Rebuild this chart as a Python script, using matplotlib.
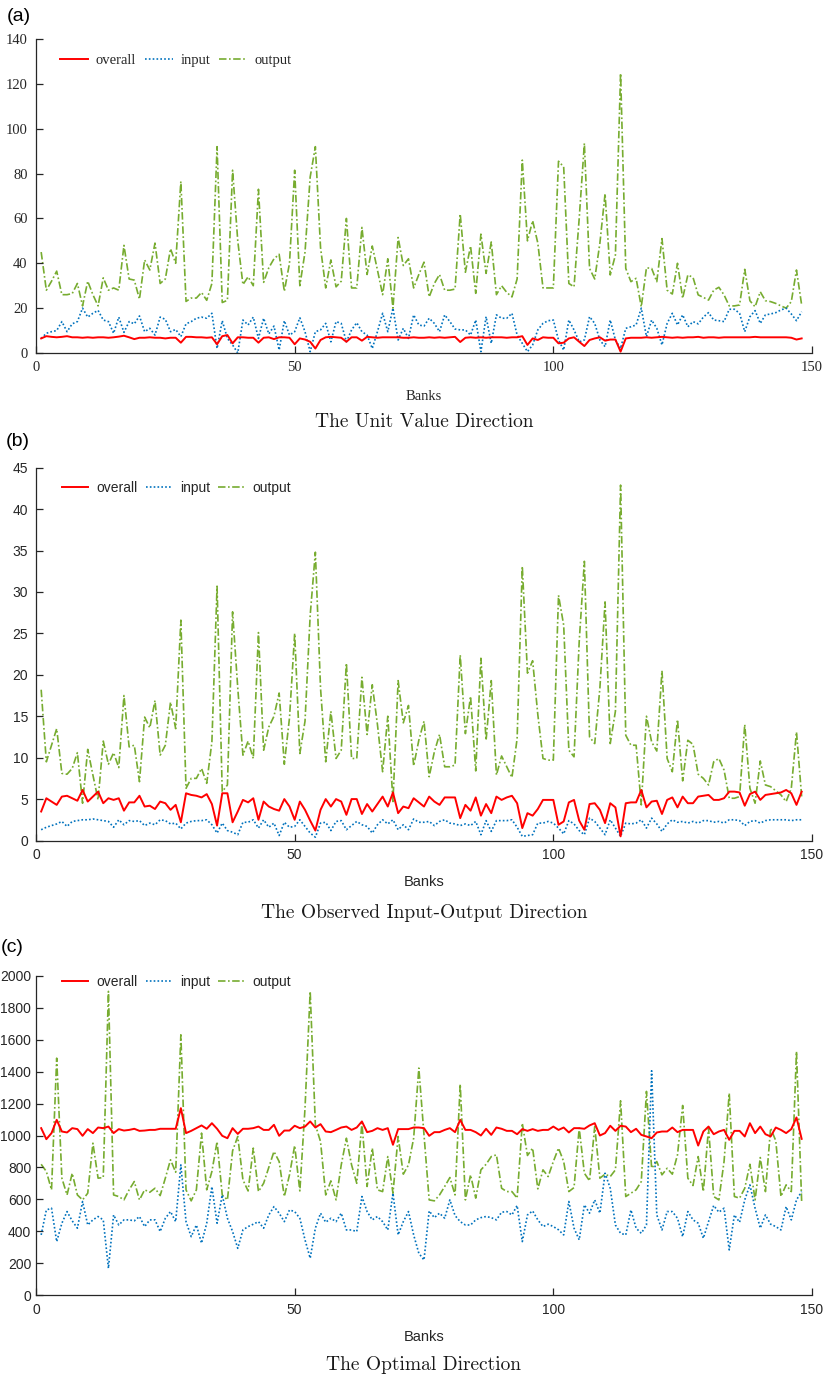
import matplotlib
matplotlib.use("Agg")
import matplotlib.pyplot as plt
import numpy as np

# ---------------- data ----------------
banks = list(range(1, 149))

a_overall = [6.5, 7.5, 7.2, 7, 7.2, 7.5, 7, 7, 6.8, 7, 6.8, 7, 7, 6.8, 7, 7.3, 7.7, 7, 6.2, 6.8,
             6.8, 7, 6.8, 6.8, 6.5, 6.8, 6.8, 4.6, 7.2, 7.2, 7, 7, 6.8, 7, 3.9, 7.5, 8, 4.3, 7, 7,
             6.8, 6.8, 4.6, 6.8, 7, 6.2, 7, 7, 6.8, 3.9, 6.5, 6, 5, 2, 5.8, 7, 7.2, 7, 6.8, 5,
             7, 7, 5.5, 7.2, 7, 6.8, 7, 7, 7, 7, 6.8, 6.8, 7, 6.8, 6.8, 7, 6.8, 7, 6.8, 7,
             7.2, 4.9, 6.8, 7, 6.8, 7, 6.8, 7, 7, 7, 6.8, 7, 7, 7.5, 3.6, 6.5, 5.8, 7, 6.8, 6.8,
             4.3, 4.6, 6.5, 7, 5, 3.1, 5.8, 6.5, 7, 5.5, 6, 6, 0.6, 6.5, 6.8, 6.8, 6.8, 7, 6.8, 7,
             7.2, 7, 6.8, 7, 6.8, 7, 7, 7.2, 6.8, 7, 7, 6.8, 7, 7, 7, 7, 7, 7, 7.2, 7,
             7, 7, 7, 7, 7, 6.8, 6, 6.5]
a_input = [6.5, 8.8, 9.5, 10, 14, 9.5, 13, 14, 20, 16, 17.7, 19, 14.7, 14, 8.8, 16, 9.2, 14, 13, 16.5,
           9.5, 11, 8, 16, 15, 9.5, 10.5, 7.3, 13, 14, 15.5, 16, 15.5, 17.7, 2, 14.4, 6.5, 3.6, 0, 14.7,
           12.5, 16, 6.5, 15.5, 8.5, 12, 1.3, 14.4, 8, 9.5, 15.7, 9.5, 0.6, 9.5, 10.3, 13.2, 5, 14, 13.2, 5,
           10.3, 13.5, 9.5, 8, 2, 9.5, 17.7, 9.5, 20, 5.8, 11, 6.5, 17, 12.5, 12, 15.5, 13.2, 9.5, 17, 14,
           10.7, 10.3, 10.3, 8, 14.7, 0.6, 16.2, 4.3, 17, 15.5, 15.5, 17.7, 8, 4.3, 0.6, 3.6, 10.3, 13.2, 14.4, 14.7,
           5.8, 1.3, 14.7, 10.3, 5, 5.8, 16.2, 13.2, 5.8, 2.8, 14.7, 5.8, 2, 11, 11.7, 12.5, 20, 7.3, 14.7, 11,
           3.6, 13.2, 17.7, 12.5, 17, 11.7, 14, 13, 16, 18, 14.7, 14.4, 14, 19.5, 19.5, 17.7, 9.5, 16.2, 18.9, 13.2,
           17, 17.4, 18, 19.2, 20, 17.4, 14.4, 18.4]
a_output = [45, 28, 32, 36.5, 26, 26, 26.5, 31, 21, 32, 26, 21, 33.5, 28, 29, 28, 48, 33, 32.5, 24,
            41.5, 37, 49, 31, 33, 46.5, 40, 76.5, 23, 24.5, 24.5, 27, 23.5, 31, 92, 22.5, 23.5, 81.5, 50, 30.5,
            34, 30, 73, 31.5, 38, 42, 44, 27.5, 40, 81.5, 30, 45, 78.5, 92, 47, 29, 41.5, 29.5, 32, 60,
            29, 29, 56, 35, 47.7, 37, 26, 42, 20, 51.5, 39, 42, 29, 35, 40.5, 25, 31, 35, 28, 28,
            28.5, 62, 36, 47.7, 26.6, 53, 35.5, 49.5, 26, 30, 27, 25, 33, 86, 50, 59, 49, 29, 29, 29,
            85.5, 83, 31, 29.5, 60, 93.5, 37.7, 33, 49, 71, 34.8, 43.7, 124.7, 37.7, 31.8, 33.3, 20.6, 38, 37.7, 31.8,
            51, 28, 26.3, 40, 24.4, 34.8, 33.7, 25.9, 24.8, 23.6, 28, 29.3, 25.9, 21, 21, 21.4, 37.3, 23.3, 20.6, 27.3,
            23.3, 22.9, 22.1, 21, 20, 22.9, 37, 21.4]

b_overall = [3.5, 5.1, 4.7, 4.3, 5.3, 5.4, 5.1, 4.8, 6.1, 4.7, 5.3, 5.9, 4.5, 5.1, 4.9, 5.1, 3.6, 4.6, 4.6, 5.4,
             4.1, 4.2, 3.8, 4.7, 4.5, 3.7, 4.3, 2.2, 5.7, 5.5, 5.4, 5.2, 5.6, 4.4, 1.8, 5.7, 5.7, 2.2, 3.5, 4.9,
             4.6, 5.1, 2.5, 4.7, 4.1, 3.8, 3.6, 5, 4.1, 2.5, 4.7, 3.7, 2.4, 1.2, 3.7, 5, 4.1, 5, 4.7, 3.1,
             5, 5, 3.2, 4.4, 3.5, 4.4, 5.3, 4.1, 5.8, 3.3, 4.1, 3.9, 5.1, 4.6, 4.1, 5.3, 4.7, 4.3, 5.2, 5.2,
             5.2, 2.7, 4.3, 3.6, 5.2, 3, 4.4, 3.3, 5.3, 4.9, 5.2, 5.4, 4.5, 1.5, 3.3, 3, 3.8, 4.9, 4.9, 4.9,
             1.9, 2.3, 4.6, 4.9, 2.4, 1.3, 4.4, 4.5, 3.7, 2.1, 4.5, 4, 0.5, 4.5, 4.6, 4.6, 6.1, 4, 4.7, 4.8,
             3.2, 4.9, 5.2, 4, 5.3, 4.5, 4.5, 5.3, 5.4, 5.5, 4.9, 4.9, 5.1, 5.9, 5.9, 5.8, 4.2, 5.6, 5.9, 4.9,
             5.5, 5.6, 5.7, 5.8, 6.1, 5.7, 4.3, 5.9]
b_input = [1.3, 1.6, 1.8, 2, 2.3, 1.7, 2.3, 2.4, 2.5, 2.5, 2.6, 2.5, 2.4, 2.3, 1.6, 2.5, 1.9, 2.4, 2.3, 2.4,
           1.8, 2.1, 1.9, 2.5, 2.4, 2, 2.1, 1.4, 2.1, 2.3, 2.4, 2.4, 2.5, 1.9, 0.9, 2.1, 1.2, 1, 0.7, 2.2,
           2.2, 2.5, 1.5, 2.5, 1.6, 2.1, 0.6, 2.2, 1.6, 1.7, 2.5, 1.7, 0.9, 0.4, 2.1, 2.2, 1.2, 2.3, 2.4, 1.3,
           1.8, 2.3, 1.9, 1.7, 0.9, 1.9, 2.5, 2, 2.5, 1.3, 1.9, 1.3, 2.6, 2.2, 2.2, 2.3, 1.8, 2.3, 2.5, 2.1,
           2, 1.8, 2, 1.8, 2.3, 0.7, 2.4, 1.1, 2.4, 2.4, 2.4, 2.5, 1.6, 0.5, 0.6, 0.7, 2.1, 2.1, 2.3, 2.1,
           1.5, 0.8, 2.4, 2, 1.2, 0.7, 2.7, 2.3, 1.5, 0.7, 2.5, 1.5, 0.5, 2.1, 2, 2.1, 2.5, 1.5, 2.7, 2,
           1.1, 2, 2.5, 2.2, 2.3, 2.1, 2.3, 2.1, 2.4, 2.4, 2.2, 2.3, 2.1, 2.5, 2.5, 2.4, 1.8, 2.3, 2.4, 2.1,
           2.4, 2.5, 2.5, 2.5, 2.5, 2.4, 2.5, 2.5]
b_output = [18.2, 9.5, 11.5, 13.5, 8.1, 8, 8.7, 10.6, 4.5, 11, 7.9, 4.9, 12, 9.2, 10.6, 8.8, 17.5, 11.3, 11.5, 7.1,
            14.9, 13.6, 16.9, 10.3, 11.5, 16.7, 13.5, 26.6, 6.3, 7.5, 7.5, 8.7, 6.9, 11.9, 30.7, 5.9, 6.7, 27.6, 18.4, 10.3,
            12, 9.9, 25.1, 10.9, 13.7, 15, 17.8, 9.2, 14.8, 25, 10.5, 14.4, 27.2, 34.8, 18.4, 9.5, 15.6, 9.9, 10.9, 21.4,
            9.9, 9.9, 19.7, 12.8, 18.8, 14, 8.3, 15, 4.7, 19.3, 14.2, 16.3, 9, 12.1, 14.4, 7.7, 10.7, 12.8, 8.9, 8.9,
            9.1, 22.4, 12.9, 17.4, 8.4, 22, 12.1, 19.3, 7.9, 10.2, 8.9, 7.6, 12.3, 33.1, 20.2, 21.7, 15.2, 9.9, 9.7, 9.7,
            29.6, 26, 10.9, 10.1, 24, 33.7, 12.5, 11.7, 18.4, 28.8, 11.7, 15.6, 42.9, 12.7, 11.5, 11.5, 4.3, 15, 11.9, 10.8,
            20.5, 9.9, 8.3, 14.6, 7.2, 12.1, 11.6, 8, 7.5, 6.7, 9.5, 9.9, 8.5, 5.1, 5.1, 5.3, 14, 6.3, 4.5, 9.6,
            6.7, 6.5, 6, 5.5, 4.7, 6.3, 13.1, 5.3]

c_overall = [1046, 977, 1015, 1098, 1025, 1019, 1046, 1040, 998, 1040, 1015, 1050, 1046, 1056, 1015, 1040, 1031, 1035, 1042, 1029,
             1031, 1035, 1035, 1042, 1042, 1042, 1042, 1171, 1015, 1029, 1046, 1063, 1042, 1077, 1042, 998, 983, 1046, 1010, 1042,
             1042, 1046, 1056, 1035, 1035, 1067, 998, 1031, 1031, 1061, 1046, 1056, 1088, 1050, 1071, 1025, 1021, 1035, 1050, 1056,
             1035, 1050, 1088, 1021, 1029, 1046, 1035, 1046, 942, 1040, 1040, 1040, 1050, 1050, 1046, 998, 1021, 1021, 1035, 1046,
             1021, 1098, 1035, 1035, 1021, 1000, 1042, 1004, 1050, 1042, 1029, 1029, 1008, 1040, 1029, 1040, 1029, 1035, 1035, 1056,
             1035, 1050, 1019, 1046, 1046, 1042, 1063, 1077, 1000, 1015, 1061, 1029, 1061, 1056, 1021, 1042, 1004, 994, 983, 1019,
             1025, 1025, 1050, 1021, 1035, 1035, 1035, 937, 1025, 1056, 1008, 1025, 1035, 973, 1029, 1029, 994, 1077, 1015, 1056,
             1008, 994, 1050, 1035, 1015, 1040, 1113, 979]
c_input = [378, 534, 545, 336, 451, 524, 466, 420, 587, 440, 472, 493, 472, 169, 503, 440, 472, 472, 466, 493,
           430, 472, 472, 399, 482, 524, 461, 816, 461, 367, 440, 326, 451, 680, 451, 628, 482, 399, 294, 409,
           430, 445, 461, 420, 503, 555, 514, 461, 534, 524, 482, 347, 232, 420, 514, 457, 482, 461, 514, 409,
           409, 399, 618, 524, 472, 493, 461, 409, 639, 378, 461, 524, 378, 263, 221, 528, 486, 514, 482, 597,
           499, 461, 440, 440, 472, 486, 493, 486, 472, 520, 524, 503, 562, 336, 503, 528, 472, 430, 445, 430,
           410, 378, 587, 420, 347, 566, 514, 597, 514, 764, 670, 440, 388, 378, 534, 420, 388, 440, 1405, 503,
           409, 524, 524, 482, 367, 524, 472, 451, 357, 461, 562, 520, 545, 284, 503, 457, 597, 691, 545, 420,
           503, 445, 430, 409, 555, 472, 597, 649]
c_output = [820, 775, 660, 1484, 733, 628, 764, 628, 597, 639, 952, 733, 737, 1902, 628, 618, 597, 660, 712, 597,
            660, 645, 670, 624, 733, 848, 770, 1630, 660, 591, 660, 1015, 660, 775, 962, 628, 597, 904, 994, 722,
            653, 921, 649, 701, 800, 900, 837, 618, 754, 937, 653, 1171, 1902, 1067, 962, 628, 716, 597, 816, 983,
            816, 701, 1077, 681, 921, 660, 649, 868, 639, 994, 758, 816, 983, 1422, 1004, 597, 591, 628, 681, 737,
            628, 1322, 597, 754, 608, 785, 820, 868, 879, 670, 649, 649, 608, 1077, 875, 921, 666, 785, 743, 837,
            921, 837, 649, 674, 1046, 764, 716, 1056, 733, 758, 743, 785, 1217, 618, 639, 660, 712, 1276, 795, 837,
            754, 795, 758, 879, 1188, 733, 687, 868, 649, 1046, 618, 597, 837, 1265, 618, 608, 670, 820, 597, 862,
            649, 1046, 967, 618, 691, 649, 1526, 587]

series_names = ["overall", "input", "output"]
x_ticks = [0, 50, 100, 150]
a_yticks = [0, 20, 40, 60, 80, 100, 120, 140]
b_yticks = [0, 5, 10, 15, 20, 25, 30, 35, 40, 45]
c_yticks = [0, 200, 400, 600, 800, 1000, 1200, 1400, 1600, 1800, 2000]
panel_labels = ["(a)", "(b)", "(c)"]
captions = ["The Unit Value Direction", "The Observed Input-Output Direction", "The Optimal Direction"]
x_label = "Banks"

# ---------------- figure ----------------
W, H = 825, 1378
fig = plt.figure(figsize=(W / 100, H / 100), dpi=100)

RED = "#FF0000"
BLUE = "#0072BD"
GREEN = "#77AC30"

def fx(px):
    return px / W

def fy(py):
    return 1 - py / H

LEFT, RIGHT = 36, 812

panels = [
    dict(top=39.0, bottom=353.0, data=(a_overall, a_input, a_output), yticks=a_yticks, ylim=(0, 140),
         font="Liberation Serif", tsize=10.5, lsize=10.5, ypad=6.0, xpad=6, bsize=10.5,
         leg=(60, 60), banks_y=396.5, cap_y=422.5, lab_y=16.5, lab_x=7),
    dict(top=467.7, bottom=840.5, data=(b_overall, b_input, b_output), yticks=b_yticks, ylim=(0, 45),
         font="Liberation Sans", tsize=10, lsize=10, ypad=5.5, xpad=5.5, bsize=10.5,
         leg=(62, 488.3), banks_y=882, cap_y=913, lab_y=441, lab_x=6),
    dict(top=975.7, bottom=1295.3, data=(c_overall, c_input, c_output), yticks=c_yticks, ylim=(0, 2000),
         font="Liberation Sans", tsize=10, lsize=10, ypad=3.5, xpad=5.5, bsize=10.5,
         leg=(62, 981.7), banks_y=1336.7, cap_y=1365, lab_y=948, lab_x=0.5),
]

for k, p in enumerate(panels):
    ax = fig.add_axes([fx(LEFT), fy(p["bottom"]), fx(RIGHT - LEFT), (p["bottom"] - p["top"]) / H])
    ov, inp, out = p["data"]
    l1, = ax.plot(banks, ov, color=RED, lw=1.4, ls="-", label=series_names[0], zorder=3)
    l2, = ax.plot(banks, inp, color=BLUE, lw=1.2, ls=(0, (1, 1.3)), label=series_names[1], zorder=2)
    l3, = ax.plot(banks, out, color=GREEN, lw=1.2, ls=(0, (4.5, 1.5, 1, 1.5)), label=series_names[2], zorder=1)

    ax.set_xlim(0, 150)
    ax.set_ylim(*p["ylim"])
    ax.set_xticks(x_ticks)
    ax.set_yticks(p["yticks"])
    for s in ("top", "right"):
        ax.spines[s].set_visible(False)
    for s in ("left", "bottom"):
        ax.spines[s].set_linewidth(0.9)
        ax.spines[s].set_color("#262626")
    ax.tick_params(axis="both", direction="in", length=5, width=0.9, color="#262626",
                   labelsize=p["tsize"], labelcolor="#262626")
    ax.tick_params(axis="y", pad=p["ypad"])
    ax.tick_params(axis="x", pad=p["xpad"])
    for lab in ax.get_xticklabels() + ax.get_yticklabels():
        lab.set_fontfamily(p["font"])

    # legend
    lx, ly = p["leg"]
    ax_h = p["bottom"] - p["top"]
    leg = ax.legend(handles=[l1, l2, l3], ncol=3, frameon=False, loc="center left",
                    bbox_to_anchor=((lx - LEFT) / (RIGHT - LEFT), (p["bottom"] - ly) / ax_h),
                    borderpad=0, borderaxespad=0, handlelength=1.9, handletextpad=0.55,
                    columnspacing=0.6, prop={"family": p["font"], "size": p["lsize"]})
    for t in leg.get_texts():
        t.set_color("#262626")

    fig.text(fx((LEFT + RIGHT) / 2), fy(p["banks_y"]), x_label, ha="center", va="center",
             fontsize=p["bsize"], family=p["font"], color="#262626")
    fig.text(fx((LEFT + RIGHT) / 2), fy(p["cap_y"]), captions[k], ha="center", va="center",
             fontsize=14, family="cmr10", color="#1a1a1a")
    fig.text(fx(p["lab_x"]), fy(p["lab_y"]), panel_labels[k], ha="left", va="center",
             fontsize=14, family="Liberation Sans", color="#000000")

fig.savefig("out.png", dpi=100)
